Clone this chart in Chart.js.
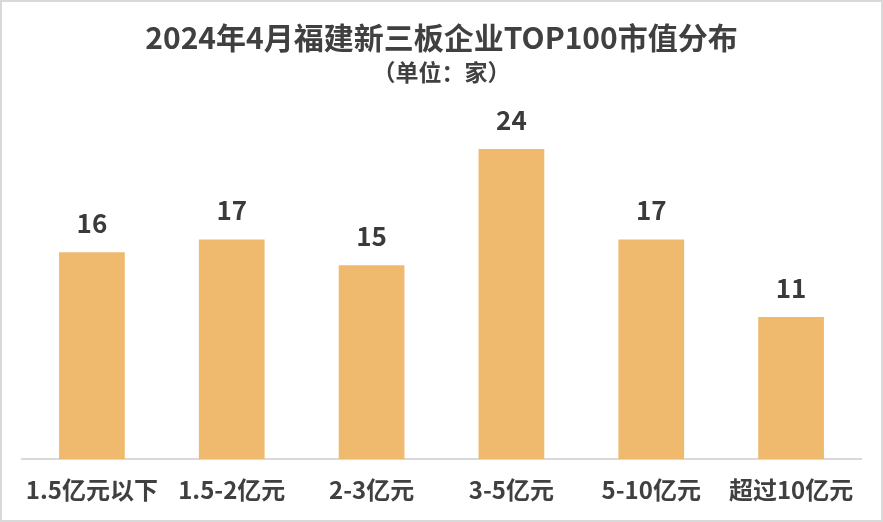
<!DOCTYPE html>
<html>
<head>
<meta charset="utf-8">
<script src="https://cdn.jsdelivr.net/npm/chart.js@4.4.1/dist/chart.umd.min.js"></script>
<style>
    html, body { margin: 0; padding: 0; background: #ffffff; }
    .wrap { position: relative; width: 879px; height: 518px; border: 2px solid #d9d9d9; }
    canvas { display: block; }
</style>
</head>
<body>
<div class="wrap"><canvas id="barChart" width="879" height="518"></canvas></div>
<script>
// Datos del gráfico
const categorias = ['1.5亿元以下', '1.5-2亿元', '2-3亿元', '3-5亿元', '5-10亿元', '超过10亿元'];
const cantidades = [16, 17, 15, 24, 17, 11];
const titulo = '2024年4月福建新三板企业TOP100市值分布';
const subtitulo = '（单位：家）';

const fontFam = '"Noto Sans CJK SC", "Microsoft YaHei", sans-serif';

// Etiquetas de valor encima de cada barra
const valueLabels = {
    id: 'valueLabels',
    afterDatasetsDraw(chart) {
        const ctx = chart.ctx;
        const meta = chart.getDatasetMeta(0);
        ctx.save();
        ctx.font = 'bold 26px ' + fontFam;
        ctx.fillStyle = '#3a3a3a';
        ctx.textAlign = 'center';
        ctx.textBaseline = 'middle';
        meta.data.forEach((bar, i) => {
            ctx.fillText(chart.data.datasets[0].data[i], bar.x, bar.y - 29);
        });
        ctx.restore();
    }
};

const ctx = document.getElementById('barChart').getContext('2d');
new Chart(ctx, {
    type: 'bar',
    data: {
        labels: categorias,
        datasets: [{
            data: cantidades,
            backgroundColor: '#f0ba6e',
            borderWidth: 0,
            categoryPercentage: 1.0,
            barPercentage: 0.47
        }]
    },
    options: {
        responsive: false,
        animation: false,
        devicePixelRatio: 1,
        layout: { padding: { left: 20, right: 20, top: 8, bottom: 0 } },
        plugins: {
            legend: { display: false },
            tooltip: { enabled: false },
            title: {
                display: true,
                text: titulo,
                color: '#404040',
                font: { family: fontFam, size: 30, weight: 'bold' },
                padding: { top: 10, bottom: 0 }
            },
            subtitle: {
                display: true,
                text: subtitulo,
                color: '#404040',
                font: { family: fontFam, size: 23, weight: 'bold' },
                padding: { top: 2, bottom: 0 }
            }
        },
        scales: {
            y: {
                display: false,
                beginAtZero: true,
                max: 28.9
            },
            x: {
                grid: { display: false, drawTicks: false },
                border: { color: '#d9d9d9', width: 2 },
                ticks: {
                    color: '#404040',
                    padding: 16,
                    maxRotation: 0,
                    autoSkip: false,
                    font: { family: fontFam, size: 24, weight: 'bold' }
                }
            }
        }
    },
    plugins: [valueLabels]
});
</script>
</body>
</html>
